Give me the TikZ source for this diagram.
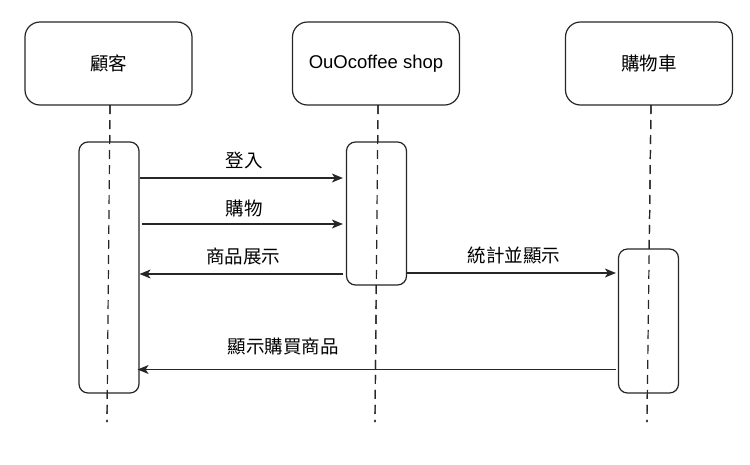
\documentclass[tikz,border=0pt]{standalone}
\usepackage{fontspec}
\setmainfont{Liberation Sans}
\newfontfamily\cjk{Noto Sans CJK TC}
\usetikzlibrary{arrows.meta,calc}
\tikzset{
  head/.style={draw=black!85,line width=1.2pt,rounded corners=15pt,minimum width=167pt,minimum height=83pt,inner sep=0pt,font=\fontsize{18.5}{22}\selectfont},
  actbox/.style={draw=black!85,line width=1.2pt,rounded corners=9pt,fill=white,minimum width=60pt,inner sep=0pt},
  life/.style={draw=black!85,line width=1.2pt,dash pattern=on 9pt off 6pt},
  msg/.style={draw=black!85,line width=1.2pt,-{Stealth[length=11pt,width=9pt,inset=3pt]}},
  lbl/.style={font=\cjk\fontsize{18.5}{22}\selectfont,inner sep=0pt}
}
\begin{document}
\begin{tikzpicture}[x=1pt,y=-1pt]
\useasboundingbox (0,0) rectangle (750,464);
% heads
\node[head] (h1) at (108.5,63.5) {\cjk 顧客};
\node[head] (h2) at (376,63.5) {OuOcoffee shop};
\node[head] (h3) at (649,63.5) {\cjk 購物車};
% lifeline ends
\coordinate (l1t) at (110,105);
\coordinate (l1b) at (107,422);
\coordinate (l2t) at (378,105);
\coordinate (l2b) at (375,422);
\coordinate (l3t) at (651,105);
\coordinate (l3b) at (647,422);
\draw[life] (l1t) -- (l1b);
\draw[life] (l2t) -- (l2b);
\draw[life] (l3t) -- (l3b);
% activation boxes
\node[actbox,minimum height=251pt] (a1) at (109,267.5) {};
\node[actbox,minimum height=143pt] (a2) at (376.5,213.5) {};
\node[actbox,minimum height=144pt] (a3) at (648.5,321) {};
\draw[life] (l1t) -- (l1b);
\draw[life] (l2t) -- (l2b);
\draw[life] (l3t) -- (l3b);
% message rows
\coordinate (m1) at (0,178);
\coordinate (m2) at (0,224);
\coordinate (m3) at (0,274);
\coordinate (m4) at (0,273);
\coordinate (m5) at (0,369.5);
\draw[msg] (a1.east |- m1) -- ([xshift=-3pt]a2.west |- m1);
\draw[msg] ([xshift=2pt]a1.east |- m2) -- ([xshift=-3pt]a2.west |- m2);
\draw[msg] ([xshift=-3pt]a2.west |- m3) -- (a1.east |- m3);
\draw[msg] (a2.east |- m4) -- ([xshift=-2pt]a3.west |- m4);
\draw[msg] ([xshift=-2pt]a3.west |- m5) -- ([xshift=-2pt]a1.east |- m5);
% labels
\node[lbl] (t1) at (244,160) {登入};
\node[lbl] (t2) at (244,208) {購物};
\node[lbl] (t3) at (243,256) {商品展示};
\node[lbl] (t4) at (514,255) {統計並顯示};
\node[lbl] (t5) at (283,346) {顯示購買商品};
\end{tikzpicture}
\end{document}
